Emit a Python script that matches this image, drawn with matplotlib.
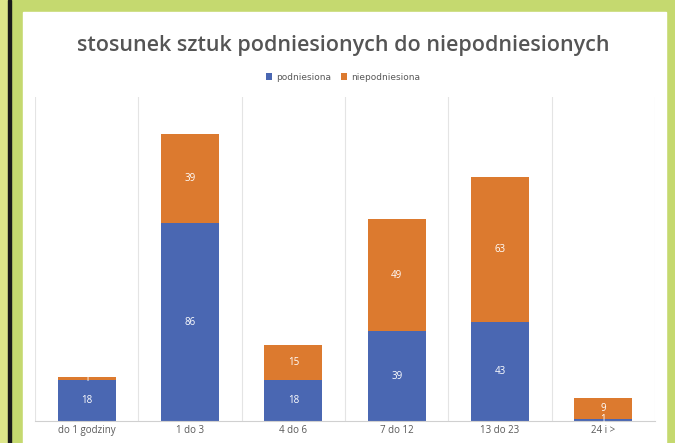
import matplotlib
matplotlib.use("Agg")
import matplotlib.pyplot as plt
from matplotlib.patches import Rectangle
import numpy as np

categories = ["do 1 godziny", "1 do 3", "4 do 6", "7 do 12", "13 do 23", "24 i >"]
podniesiona = [18, 86, 18, 39, 43, 1]
niepodniesiona = [1, 39, 15, 49, 63, 9]
series_names = ["podniesiona", "niepodniesiona"]
title = "stosunek sztuk podniesionych do niepodniesionych"

W, H = 675, 443
fig = plt.figure(figsize=(W / 100, H / 100), dpi=100)
fig.patch.set_facecolor("#c5d96f")

def px_rect(x0, y0, x1, y1, color):
    fig.patches.append(Rectangle((x0 / W, 1 - y1 / H), (x1 - x0) / W, (y1 - y0) / H,
                                 transform=fig.transFigure, color=color, zorder=-5))

px_rect(0, 0, 8, H, "#dde68a")
px_rect(8, 0, 11, H, "#1a1a1a")
px_rect(23, 12, 666, H, "#ffffff")

blue = "#4a67b2"
orange = "#dc7a2f"
ax_left, ax_right, ax_top, ax_bot = 35, 655, 97, 421
ax = fig.add_axes([ax_left / W, 1 - ax_bot / H, (ax_right - ax_left) / W, (ax_bot - ax_top) / H])
ax.set_facecolor("none")
ax.set_zorder(2)

x = np.arange(len(categories))
bw = 0.56
b1 = ax.bar(x, podniesiona, bw, color=blue, label=series_names[0], zorder=2)
b2 = ax.bar(x, niepodniesiona, bw, bottom=podniesiona, color=orange, label=series_names[1], zorder=2)

for i in range(len(categories)):
    ax.text(x[i], podniesiona[i] / 2, str(podniesiona[i]), ha="center", va="center",
            color="white", fontsize=7, family="Open Sans", zorder=3)
    ax.text(x[i], podniesiona[i] + niepodniesiona[i] / 2, str(niepodniesiona[i]), ha="center",
            va="center", color="white", fontsize=7, family="Open Sans", zorder=3)

ax.set_xlim(-0.5, len(categories) - 0.5)
ax.set_ylim(0, 141)
for b in np.arange(-0.5, len(categories), 1.0):
    ax.axvline(b, color="#e4e4e4", lw=0.8, zorder=1)
for s in ["top", "right", "left"]:
    ax.spines[s].set_visible(False)
ax.spines["bottom"].set_color("#d0d0d0")
ax.set_yticks([])
ax.set_xticks(x)
ax.set_xticklabels(categories, fontsize=7, color="#595959", family="Open Sans")
ax.tick_params(axis="x", length=0, pad=3)

fig.text(343 / W, 1 - 45 / H, title, ha="center", va="center", fontsize=15.5,
         color="#555555", family="Open Sans", fontweight="semibold")
fig.legend(handles=[b1, b2], labels=series_names, loc="center", bbox_to_anchor=(343 / W, 1 - 77 / H),
           ncol=2, frameon=False, fontsize=6.5, handlelength=0.7, handleheight=0.7,
           handletextpad=0.5, columnspacing=1.0, labelcolor="#595959")

fig.savefig("out.png", dpi=100)
